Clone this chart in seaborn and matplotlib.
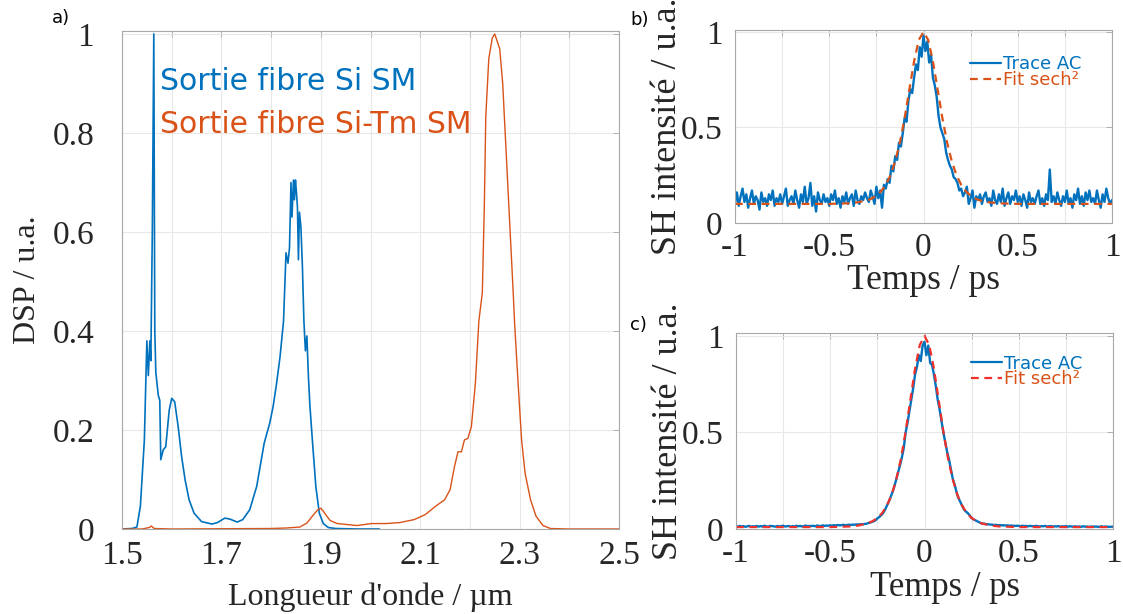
import numpy as np
import pandas as pd
import matplotlib
matplotlib.use("Agg")
import matplotlib.pyplot as plt
import seaborn as sns
from matplotlib.lines import Line2D

# ---------------- data ----------------
# Panel a : spectra
wl_si = [1.500, 1.520, 1.530, 1.537, 1.545, 1.550, 1.553, 1.556, 1.558, 1.561, 1.564,
         1.566, 1.568, 1.573, 1.576, 1.578, 1.583, 1.588, 1.595, 1.600, 1.606, 1.613,
         1.620, 1.627, 1.635, 1.645, 1.660, 1.681, 1.692, 1.707, 1.717, 1.732, 1.743,
         1.757, 1.771, 1.786, 1.797, 1.804, 1.811, 1.818, 1.825, 1.830, 1.834, 1.837,
         1.840, 1.842, 1.845, 1.847, 1.849, 1.851, 1.853, 1.855, 1.857, 1.860, 1.863,
         1.866, 1.869, 1.872, 1.875, 1.878, 1.883, 1.890, 1.897, 1.905, 1.915, 1.930,
         1.973, 2.018]
dsp_si = [0.000, 0.001, 0.004, 0.046, 0.180, 0.380, 0.310, 0.380, 0.340, 0.600, 1.000,
          0.400, 0.317, 0.270, 0.260, 0.140, 0.160, 0.166, 0.240, 0.264, 0.257, 0.207,
          0.146, 0.099, 0.059, 0.032, 0.015, 0.010, 0.013, 0.022, 0.020, 0.014, 0.019,
          0.039, 0.086, 0.173, 0.213, 0.247, 0.294, 0.348, 0.420, 0.558, 0.537, 0.568,
          0.700, 0.630, 0.705, 0.665, 0.705, 0.680, 0.650, 0.544, 0.640, 0.610, 0.530,
          0.420, 0.360, 0.390, 0.310, 0.250, 0.180, 0.086, 0.032, 0.011, 0.003, 0.001,
          0.000, 0.000]

wl_tm = [1.500, 1.540, 1.555, 1.559, 1.565, 1.600, 1.800, 1.830, 1.858, 1.872, 1.883,
         1.894, 1.900, 1.905, 1.912, 1.919, 1.933, 1.973, 2.002, 2.031, 2.059, 2.088,
         2.110, 2.131, 2.149, 2.160, 2.169, 2.176, 2.183, 2.189, 2.196, 2.203, 2.211,
         2.218, 2.225, 2.229, 2.232, 2.238, 2.245, 2.250, 2.255, 2.260, 2.266, 2.273,
         2.281, 2.287, 2.290, 2.297, 2.304, 2.311, 2.322, 2.333, 2.347, 2.362, 2.400,
         2.500]
dsp_tm = [0.000, 0.000, 0.003, 0.006, 0.001, 0.000, 0.001, 0.002, 0.004, 0.012, 0.026,
          0.039, 0.042, 0.036, 0.026, 0.017, 0.011, 0.007, 0.011, 0.011, 0.013, 0.019,
          0.029, 0.046, 0.059, 0.079, 0.126, 0.156, 0.156, 0.180, 0.183, 0.207, 0.294,
          0.420, 0.477, 0.652, 0.834, 0.950, 0.992, 1.000, 0.985, 0.970, 0.900, 0.760,
          0.600, 0.480, 0.415, 0.294, 0.180, 0.113, 0.059, 0.026, 0.007, 0.001, 0.000,
          0.000]

# Panel b : autocorrelation (noisy), t from -1 to 1 ps, step 0.01
t_start, t_step = -1.0, 0.01
ac_b = [0.10, 0.16, 0.09, 0.14, 0.18, 0.11, 0.15, 0.08, 0.13, 0.17,
        0.10, 0.14, 0.12, 0.07, 0.16, 0.11, 0.13, 0.09, 0.15, 0.12,
        0.17, 0.09, 0.13, 0.11, 0.15, 0.10, 0.14, 0.18, 0.09, 0.12,
        0.14, 0.10, 0.17, 0.12, 0.08, 0.15, 0.11, 0.19, 0.10, 0.13,
        0.21, 0.09, 0.14, 0.06, 0.16, 0.12, 0.10, 0.15, 0.11, 0.13,
        0.09, 0.15, 0.12, 0.17, 0.10, 0.13, 0.08, 0.14, 0.11, 0.16,
        0.10, 0.13, 0.15, 0.09, 0.17, 0.12, 0.10, 0.14, 0.12, 0.16,
        0.13, 0.11, 0.17, 0.14, 0.10, 0.19, 0.13, 0.17, 0.08, 0.20,
        0.18, 0.23, 0.21, 0.30, 0.27, 0.35, 0.33, 0.42, 0.40, 0.47,
        0.55, 0.53, 0.64, 0.70, 0.68, 0.76, 0.83, 0.80, 0.92, 0.87,
        0.98, 0.90, 0.95, 0.84, 0.88, 0.76, 0.72, 0.66, 0.56, 0.50,
        0.47, 0.44, 0.37, 0.33, 0.30, 0.28, 0.24, 0.23, 0.21, 0.17,
        0.18, 0.14, 0.16, 0.19, 0.10, 0.13, 0.17, 0.08, 0.14, 0.12,
        0.15, 0.10, 0.14, 0.16, 0.11, 0.13, 0.09, 0.17, 0.12, 0.10,
        0.15, 0.11, 0.18, 0.09, 0.13, 0.16, 0.10, 0.14, 0.12, 0.17,
        0.11, 0.14, 0.09, 0.15, 0.12, 0.08, 0.16, 0.11, 0.13, 0.10,
        0.14, 0.17, 0.10, 0.13, 0.09, 0.15, 0.12, 0.28, 0.11, 0.14,
        0.10, 0.16, 0.12, 0.09, 0.14, 0.11, 0.17, 0.10, 0.13, 0.08,
        0.15, 0.12, 0.18, 0.10, 0.14, 0.09, 0.16, 0.12, 0.17, 0.11,
        0.13, 0.10, 0.17, 0.12, 0.08, 0.15, 0.11, 0.18, 0.13, 0.10,
        0.12]
ac_c = [0.015, 0.012, 0.016, 0.013, 0.015, 0.011, 0.014, 0.016, 0.012, 0.014,
        0.013, 0.016, 0.012, 0.015, 0.013, 0.017, 0.014, 0.012, 0.016, 0.015,
        0.014, 0.012, 0.016, 0.013, 0.015, 0.017, 0.013, 0.014, 0.016, 0.012,
        0.015, 0.013, 0.017, 0.014, 0.016, 0.013, 0.015, 0.018, 0.014, 0.016,
        0.015, 0.017, 0.014, 0.018, 0.016, 0.015, 0.019, 0.016, 0.018, 0.017,
        0.019, 0.017, 0.020, 0.018, 0.021, 0.019, 0.020, 0.022, 0.019, 0.021,
        0.022, 0.021, 0.023, 0.022, 0.024, 0.023, 0.025, 0.024, 0.026, 0.027,
        0.030, 0.033, 0.036, 0.040, 0.045, 0.055, 0.062, 0.071, 0.082, 0.098,
        0.120, 0.140, 0.165, 0.190, 0.220, 0.256, 0.290, 0.330, 0.370, 0.420,
        0.500, 0.550, 0.610, 0.670, 0.730, 0.800, 0.840, 0.900, 0.870, 0.950,
        0.970, 0.900, 0.950, 0.860, 0.850, 0.800, 0.740, 0.670, 0.620, 0.560,
        0.500, 0.450, 0.400, 0.360, 0.310, 0.260, 0.230, 0.190, 0.160, 0.140,
        0.120, 0.100, 0.090, 0.082, 0.070, 0.057, 0.050, 0.045, 0.040, 0.035,
        0.030, 0.028, 0.027, 0.025, 0.024, 0.023, 0.022, 0.021, 0.021, 0.020,
        0.020, 0.019, 0.019, 0.018, 0.019, 0.017, 0.018, 0.017, 0.016, 0.017,
        0.016, 0.015, 0.017, 0.015, 0.016, 0.014, 0.016, 0.015, 0.014, 0.016,
        0.015, 0.013, 0.015, 0.014, 0.016, 0.013, 0.014, 0.015, 0.013, 0.014,
        0.013, 0.015, 0.012, 0.014, 0.013, 0.015, 0.012, 0.014, 0.013, 0.012,
        0.014, 0.012, 0.013, 0.011, 0.014, 0.012, 0.013, 0.011, 0.012, 0.013,
        0.012, 0.013, 0.011, 0.012, 0.014, 0.011, 0.013, 0.012, 0.011, 0.012,
        0.012]

# sech^2 fits
t_fit = [-1.0, -0.5, -0.4, -0.35, -0.3, -0.275, -0.25, -0.225, -0.2, -0.175, -0.15,
         -0.125, -0.1, -0.075, -0.05, -0.025, 0.0, 0.025, 0.05, 0.075, 0.1, 0.125,
         0.15, 0.175, 0.2, 0.225, 0.25, 0.275, 0.3, 0.35, 0.4, 0.5, 1.0]
fit_b = [0.100, 0.100, 0.103, 0.108, 0.118, 0.128, 0.143, 0.166, 0.200, 0.250, 0.323,
         0.422, 0.550, 0.699, 0.846, 0.958, 1.000, 0.958, 0.846, 0.699, 0.550, 0.422,
         0.323, 0.250, 0.200, 0.166, 0.143, 0.128, 0.118, 0.108, 0.103, 0.100, 0.100]
fit_c = [0.010, 0.010, 0.013, 0.018, 0.030, 0.041, 0.057, 0.082, 0.120, 0.175, 0.256,
         0.364, 0.505, 0.669, 0.831, 0.953, 1.000, 0.953, 0.831, 0.669, 0.505, 0.364,
         0.256, 0.175, 0.120, 0.082, 0.057, 0.041, 0.030, 0.018, 0.013, 0.010, 0.010]

label_si = "Sortie fibre Si SM"
label_tm = "Sortie fibre Si-Tm SM"
label_trace = "Trace AC"
label_fit = "Fit sech²"

# ---------------- style ----------------
sns.set_theme(style="white")
plt.rcParams["font.family"] = ["DejaVu Sans"]
SERIF = "Liberation Serif"
BLUE = "#0072BD"
ORANGE = "#D95319"
RED = "#F0302A"
GRID = "#e8e8e8"
SPINE = "#a8a8a8"
TXT = "#262626"

W, H = 1123, 614
fig = plt.figure(figsize=(W / 100, H / 100), dpi=100)

def px_axes(l, t, r, b):
    return fig.add_axes([l / W, 1 - b / H, (r - l) / W, (b - t) / H])

ax_a = px_axes(122, 31, 619, 529)
ax_b = px_axes(735, 30, 1112, 223)
ax_c = px_axes(736, 333, 1113, 529)

def style_axes(ax, xticks, xlabels, yticks, ylabels, ypad, xpad):
    ax.set_xticks(xticks)
    ax.set_xticklabels(xlabels)
    ax.set_yticks(yticks)
    ax.set_yticklabels(ylabels)
    ax.grid(True, color=GRID, linewidth=0.8)
    ax.set_axisbelow(True)
    for s in ax.spines.values():
        s.set_color(SPINE)
        s.set_linewidth(0.8)
    ax.tick_params(axis="both", direction="in", length=4, width=0.6, color=SPINE,
                   top=True, right=True, labelsize=24, labelcolor=TXT)
    ax.tick_params(axis="y", pad=ypad)
    ax.tick_params(axis="x", pad=xpad)
    for lab in ax.get_xticklabels() + ax.get_yticklabels():
        lab.set_fontfamily(SERIF)

def set_labels(ax, xl, yl, xc, yc, xsize=23, ysize=23):
    ax.set_xlabel(xl, fontfamily=SERIF, fontsize=xsize, color=TXT, va="center")
    ax.set_ylabel(yl, fontfamily=SERIF, fontsize=ysize, color=TXT, va="center")
    ax.xaxis.set_label_coords(*xc)
    ax.yaxis.set_label_coords(*yc)

# ---- panel a ----
df_si = pd.DataFrame({"wl": wl_si, "dsp": dsp_si})
df_tm = pd.DataFrame({"wl": wl_tm, "dsp": dsp_tm})
sns.lineplot(data=df_si, x="wl", y="dsp", ax=ax_a, color=BLUE, linewidth=1.2,
             estimator=None, sort=False)
sns.lineplot(data=df_tm, x="wl", y="dsp", ax=ax_a, color=ORANGE, linewidth=1.0,
             estimator=None, sort=False)
ax_a.set_xlim(1.5, 2.5)
ax_a.set_ylim(0, 1.006)
xt_a = np.round(np.arange(1.5, 2.501, 0.1), 1)
style_axes(ax_a, xt_a, [f"{v:g}" if i % 2 == 0 else "" for i, v in enumerate(xt_a)],
           [0, 0.2, 0.4, 0.6, 0.8, 1], ["0", "0.2", "0.4", "0.6", "0.8", "1"], 20, 8)
set_labels(ax_a, "Longueur d'onde / µm", "DSP / u.a.", (0.5, -0.137), (-0.191, 0.5))
ax_a.text(0.0765, 0.898, label_si, transform=ax_a.transAxes, color=BLUE,
          fontsize=21.5, va="center", ha="left")
ax_a.text(0.0765, 0.813, label_tm, transform=ax_a.transAxes, color=ORANGE,
          fontsize=21.5, va="center", ha="left")

# ---- panels b, c ----
t_ac = np.round(t_start + t_step * np.arange(len(ac_b)), 2)

def ac_panel(ax, trace, fit, fit_color, top, leg_top):
    df_t = pd.DataFrame({"t": t_ac, "v": trace})
    df_f = pd.DataFrame({"t": t_fit, "v": fit})
    sns.lineplot(data=df_t, x="t", y="v", ax=ax, color=BLUE, linewidth=1.7,
                 estimator=None, sort=False)
    sns.lineplot(data=df_f, x="t", y="v", ax=ax, color=fit_color, linewidth=1.6,
                 estimator=None, sort=False)
    ax.lines[-1].set_dashes((3.5, 2.5))
    ax.set_xlim(-1, 1)
    ax.set_ylim(0, top)
    xt = np.round(np.arange(-1, 1.001, 0.25), 2)
    style_axes(ax, xt, [f"{v:g}" if abs(v * 2 - round(v * 2)) < 1e-9 else "" for v in xt],
               [0, 0.5, 1], ["0", "0.5", "1"], 9, 7)
    handles = [Line2D([0], [0], color=BLUE, lw=1.6),
               Line2D([0], [0], color=fit_color, lw=1.6, dashes=(3.5, 2.5))]
    leg = ax.legend(handles, [label_trace, label_fit], loc="upper right",
                    bbox_to_anchor=(0.918, leg_top), frameon=False, fontsize=13,
                    handlelength=1.7, handletextpad=0.1, labelspacing=-0.12,
                    borderpad=0, borderaxespad=0)
    for txt, col in zip(leg.get_texts(), [BLUE, ORANGE]):
        txt.set_color(col)

ac_panel(ax_b, ac_b, fit_b, ORANGE, 1.01, 0.87)
set_labels(ax_b, "Temps / ps", "SH intensité / u.a.", (0.5, -0.30), (-0.178, 0.5), 25.5, 26)
ac_panel(ax_c, ac_c, fit_c, RED, 1.015, 0.89)
set_labels(ax_c, "Temps / ps", "SH intensité / u.a.", (0.555, -0.296), (-0.18, 0.5), 25, 26)

# panel letters
fig.text(52 / W, 1 - 18 / H, "a)", fontsize=13, va="center", ha="left", color="black")
fig.text(630 / W, 1 - 20 / H, "b)", fontsize=13, va="center", ha="left", color="black")
fig.text(630 / W, 1 - 325 / H, "c)", fontsize=13, va="center", ha="left", color="black")

fig.savefig("out.png", dpi=100)
